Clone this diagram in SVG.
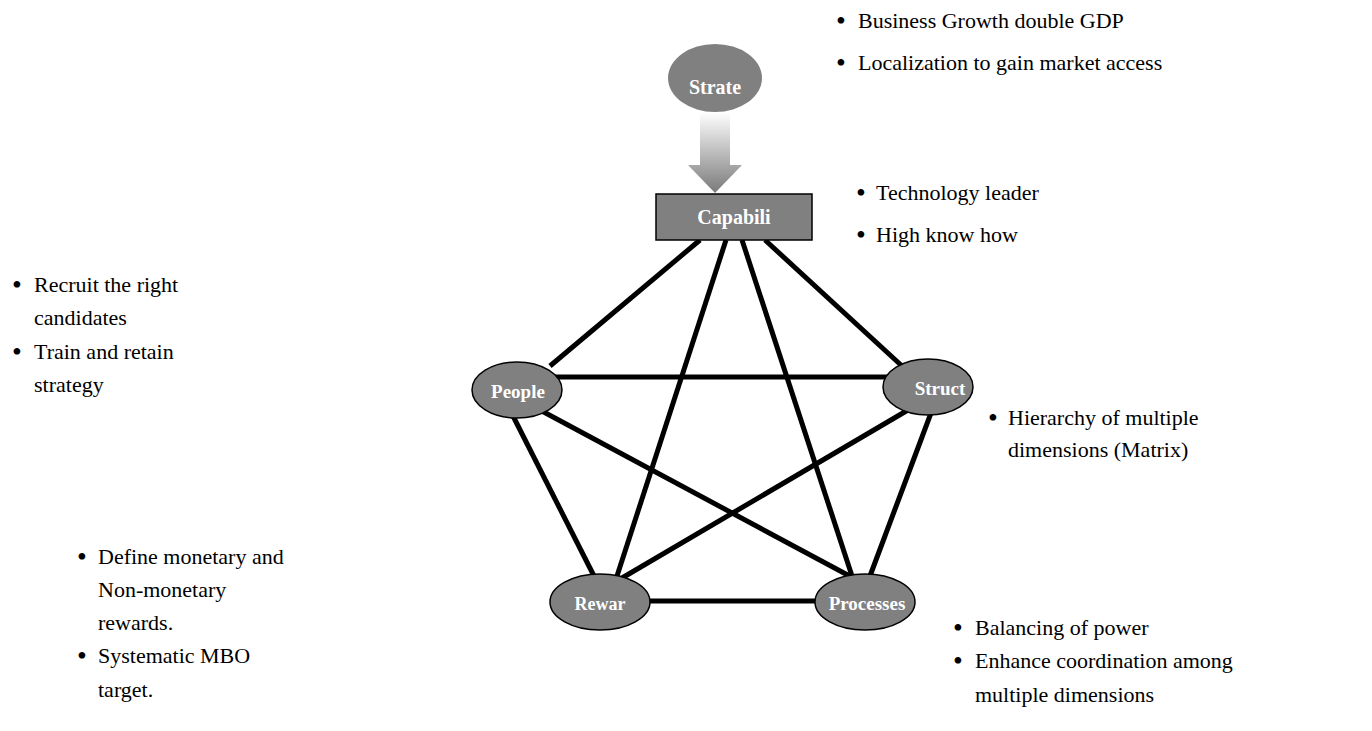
<svg xmlns="http://www.w3.org/2000/svg" width="1372" height="731" viewBox="0 0 1372 731">
<defs>
<linearGradient id="arrowGrad" x1="0" y1="0" x2="0" y2="1">
<stop offset="0" stop-color="#ffffff"/>
<stop offset="1" stop-color="#7a7a7a"/>
</linearGradient>
<style>
.node{fill:#808080;stroke:#000;stroke-width:1.5}
.lbl{font-family:"Liberation Serif","Times New Roman",serif;font-weight:bold;fill:#fff;text-anchor:middle}
.conn{stroke:#000;stroke-width:5;stroke-linecap:butt;fill:none}
.txt{font-family:"Liberation Serif","Times New Roman",serif;font-size:22px;fill:#000}
.bul{font-family:"Liberation Serif","Times New Roman",serif;font-size:28px;fill:#000}
</style>
</defs>
<rect width="1372" height="731" fill="#fff"/>
<g id="connectors">
<line class="conn" x1="700" y1="240" x2="550" y2="366"/>
<line class="conn" x1="726" y1="240" x2="617" y2="576"/>
<line class="conn" x1="742" y1="240" x2="852" y2="576"/>
<line class="conn" x1="765" y1="240" x2="902" y2="366"/>
<line class="conn" x1="555" y1="377" x2="892" y2="377"/>
<line class="conn" x1="540" y1="410" x2="857" y2="580"/>
<line class="conn" x1="908" y1="410" x2="622" y2="578"/>
<line class="conn" x1="513" y1="416" x2="594" y2="576"/>
<line class="conn" x1="931" y1="413" x2="870" y2="576"/>
<line class="conn" x1="645" y1="601" x2="820" y2="601"/>
<path d="M700,112 L730,112 L730,165 L742,165 L715,193 L688,165 L700,165 Z" fill="url(#arrowGrad)"/>
</g>
<g id="strate">
<ellipse cx="715" cy="78" rx="47" ry="34" fill="#808080"/>
<text class="lbl" x="715" y="94" font-size="20">Strate</text>
</g>
<g id="capabili">
<rect x="656" y="194" width="156" height="46" fill="#808080" stroke="#000" stroke-width="1.5"/>
<text class="lbl" x="734" y="224" font-size="20">Capabili</text>
</g>
<g id="people">
<ellipse class="node" cx="517" cy="390" rx="45" ry="28"/>
<text class="lbl" x="518" y="398" font-size="19">People</text>
</g>
<g id="struct">
<ellipse class="node" cx="928" cy="387" rx="45" ry="28"/>
<text class="lbl" x="940" y="395" font-size="19">Struct</text>
</g>
<g id="rewar">
<ellipse class="node" cx="600" cy="602" rx="50" ry="28"/>
<text class="lbl" x="600" y="610" font-size="18">Rewar</text>
</g>
<g id="processes">
<ellipse class="node" cx="865" cy="602" rx="50" ry="28"/>
<text class="lbl" x="867" y="610" font-size="19">Processes</text>
</g>
<g id="texts">
<text class="bul" x="836" y="30">•</text><text class="txt" x="858" y="28">Business Growth double GDP</text>
<text class="bul" x="836" y="72">•</text><text class="txt" x="858" y="70">Localization to gain market access</text>
<text class="bul" x="856" y="202">•</text><text class="txt" x="876" y="200">Technology leader</text>
<text class="bul" x="856" y="244">•</text><text class="txt" x="876" y="242">High know how</text>
<text class="bul" x="12" y="294">•</text><text class="txt" x="34" y="292">Recruit the right</text>
<text class="txt" x="34" y="325">candidates</text>
<text class="bul" x="12" y="361">•</text><text class="txt" x="34" y="359">Train and retain</text>
<text class="txt" x="34" y="392">strategy</text>
<text class="bul" x="988" y="427">•</text><text class="txt" x="1008" y="425">Hierarchy of multiple</text>
<text class="txt" x="1008" y="457">dimensions (Matrix)</text>
<text class="bul" x="77" y="566">•</text><text class="txt" x="98" y="564">Define monetary and</text>
<text class="txt" x="98" y="597">Non-monetary</text>
<text class="txt" x="98" y="630">rewards.</text>
<text class="bul" x="77" y="665">•</text><text class="txt" x="98" y="663">Systematic MBO</text>
<text class="txt" x="98" y="697">target.</text>
<text class="bul" x="953" y="637">•</text><text class="txt" x="975" y="635">Balancing of power</text>
<text class="bul" x="953" y="670">•</text><text class="txt" x="975" y="668">Enhance coordination among</text>
<text class="txt" x="975" y="702">multiple dimensions</text>
</g>
</svg>
